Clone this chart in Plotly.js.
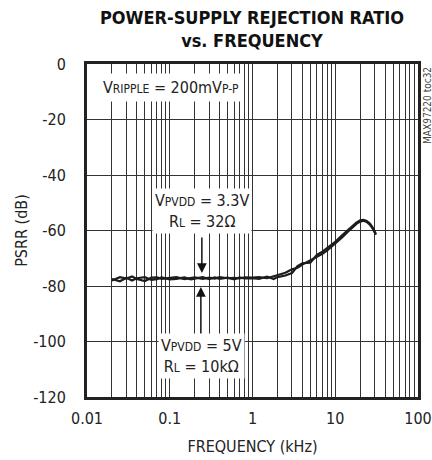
<!DOCTYPE html>
<html>
<head>
<meta charset="utf-8">
<script src="https://cdn.plot.ly/plotly-3.0.1.min.js"></script>
<style>
html,body{margin:0;padding:0;background:#fff;}
#chart{width:432px;height:460px;}
</style>
</head>
<body>
<div id="chart"></div>
<script>
// Frequencies (kHz)
const freq = [0.02, 0.025, 0.03, 0.035, 0.04, 0.05, 0.06, 0.07, 0.08, 0.1, 0.12, 0.15, 0.18, 0.2, 0.25, 0.3, 0.35, 0.4, 0.5, 0.6, 0.7, 0.8, 1.0, 1.2, 1.5, 1.8, 2, 2.5, 3, 3.5, 4, 5, 6, 7, 8, 10, 12, 14, 16, 18, 20, 22, 24, 26, 28, 30, 31];
// PSRR (dB), VPVDD = 3.3V, RL = 32 ohm
const psrr33 = [-78.0, -76.8, -77.3, -76.6, -77.5, -78.2, -77.0, -76.9, -77.4, -77.1, -76.8, -77.5, -77.2, -76.9, -77.4, -77.0, -77.3, -76.8, -77.2, -77.1, -77.3, -76.9, -77.0, -76.8, -77.2, -76.5, -76.0, -75.2, -74.0, -73.4, -72.3, -70.8, -69.6, -68.4, -67.2, -64.8, -62.6, -60.6, -58.9, -57.6, -56.8, -56.5, -56.9, -57.8, -59.0, -60.5, -61.5];
// PSRR (dB), VPVDD = 5V, RL = 10k ohm
const psrr5 = [-77.5, -78.3, -77.0, -78.0, -77.2, -76.8, -77.8, -77.5, -76.9, -77.6, -77.4, -76.9, -77.6, -77.3, -76.8, -77.5, -76.9, -77.4, -77.0, -77.6, -76.9, -77.3, -77.2, -77.4, -76.6, -77.5, -76.8, -76.2, -75.3, -72.8, -71.8, -71.6, -68.8, -67.6, -66.3, -64.1, -61.8, -60.0, -58.4, -57.2, -56.3, -56.2, -56.6, -57.4, -58.7, -60.2, -61.3];

// Tick labels
const xMajor = [0.01, 0.1, 1, 10, 100];
const xMajorText = ["0.01", "0.1", "1", "10", "100"];
const yTicks = [0, -20, -40, -60, -80, -100, -120];
const yTickText = ["0", "-20", "-40", "-60", "-80", "-100", "-120"];

// build log grid tick positions (1..9 per decade)
const xTickVals = [];
const xTickText = [];
for (let d = 0; d < xMajor.length; d++) {
  const base = xMajor[d];
  const lim = (d === xMajor.length - 1) ? 1 : 9;
  for (let m = 1; m <= lim; m++) {
    xTickVals.push(base * m);
    xTickText.push(m === 1 ? xMajorText[d] : "");
  }
}

const FONT = "'DejaVu Sans Condensed', 'Liberation Sans Narrow', sans-serif";
const lineColor = "#1c1c1c";
const FS = 16;

const traces = [
  {x: freq, y: psrr33, type: "scatter", mode: "lines", line: {color: lineColor, width: 2.2}, hoverinfo: "skip"},
  {x: freq, y: psrr5, type: "scatter", mode: "lines", line: {color: lineColor, width: 2.2}, hoverinfo: "skip"}
];

const sub = s => "<span style='font-size:12px'>" + s + "</span>";

const layout = {
  width: 432, height: 460,
  margin: {l: 87, r: 14, t: 64, b: 63},
  paper_bgcolor: "#fff", plot_bgcolor: "#fff",
  showlegend: false,
  font: {family: FONT, size: FS, color: "#222"},
  title: {
    text: "<b>POWER-SUPPLY REJECTION RATIO<br>vs. FREQUENCY</b>",
    font: {family: FONT, size: 18, color: "#111"},
    x: 252/432, xanchor: "center", xref: "container",
    y: 1 - 24/460, yanchor: "middle", yref: "container"
  },
  xaxis: {
    type: "log", range: [-2, 2],
    tickmode: "array", tickvals: xTickVals, ticktext: xTickText,
    showgrid: true, gridcolor: "#333", gridwidth: 1,
    showline: true, linecolor: "#222", linewidth: 3, mirror: true,
    ticks: "outside", ticklen: 5, tickcolor: "rgba(0,0,0,0)",
    zeroline: false,
    tickfont: {family: FONT, size: FS, color: "#222"},
    title: {text: "FREQUENCY (kHz)", font: {family: FONT, size: FS, color: "#222"}, standoff: 14}
  },
  yaxis: {
    range: [-120, 0],
    tickmode: "array", tickvals: yTicks, ticktext: yTickText,
    showgrid: true, gridcolor: "#333", gridwidth: 1,
    showline: true, linecolor: "#222", linewidth: 3, mirror: true,
    ticks: "outside", ticklen: 15, tickcolor: "rgba(0,0,0,0)",
    zeroline: false,
    tickfont: {family: FONT, size: FS, color: "#222"},
    title: {text: "PSRR (dB)", font: {family: FONT, size: FS, color: "#222"}, standoff: 2}
  },
  annotations: [
    {xref: "paper", yref: "paper", x: 0.255, y: 0.928, xanchor: "center", yanchor: "middle", showarrow: false,
     text: "V" + sub("RIPPLE") + " = 200mV" + sub("P-P"),
     bgcolor: "#fff", borderpad: 4, font: {family: FONT, size: FS, color: "#222"}},
    {xref: "paper", yref: "paper", x: 0.347, y: 0.559, xanchor: "center", yanchor: "middle", showarrow: false,
     text: "V" + sub("PVDD") + " = 3.3V<br>R" + sub("L") + " = 32Ω",
     bgcolor: "#fff", borderpad: 2, font: {family: FONT, size: FS, color: "#222"}},
    {xref: "paper", yref: "paper", x: 0.345, y: 0.123, xanchor: "center", yanchor: "middle", showarrow: false,
     text: "V" + sub("PVDD") + " = 5V<br>R" + sub("L") + " = 10kΩ",
     bgcolor: "#fff", borderpad: 2, font: {family: FONT, size: FS, color: "#222"}},
    {xref: "paper", yref: "paper", x: 0.347, y: 0.372, text: "", showarrow: true,
     ax: 0, ay: -37, arrowhead: 2, arrowsize: 1.3, arrowwidth: 1.5, arrowcolor: "#111"},
    {xref: "paper", yref: "paper", x: 0.344, y: 0.330, text: "", showarrow: true,
     ax: 0, ay: 48, arrowhead: 2, arrowsize: 1.3, arrowwidth: 1.5, arrowcolor: "#111"},
    {xref: "paper", yref: "paper", x: 1.03, y: 0.877, xanchor: "center", yanchor: "middle", showarrow: false, textangle: -90,
     text: "MAX97220 toc32", font: {family: FONT, size: 10, color: "#444"}}
  ]
};

Plotly.newPlot("chart", traces, layout, {staticPlot: true, displayModeBar: false});
</script>
</body>
</html>
